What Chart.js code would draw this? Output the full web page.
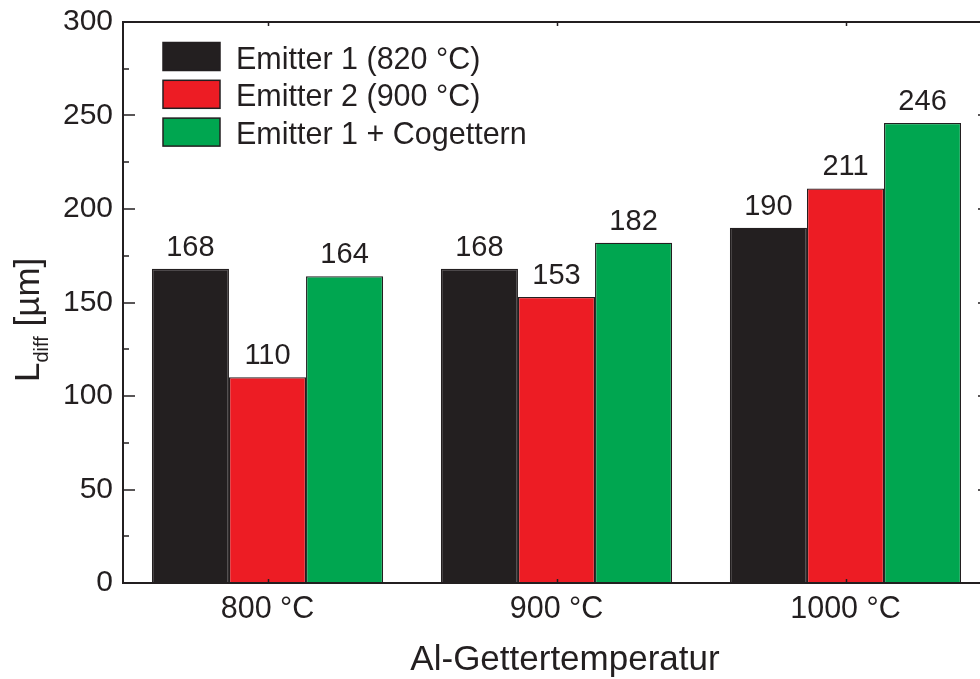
<!DOCTYPE html>
<html><head><meta charset="utf-8">
<script src="https://cdn.jsdelivr.net/npm/chart.js@4"></script>
<style>html,body{margin:0;padding:0;overflow:hidden;background:#fff}canvas{display:block}</style>
</head><body>
<canvas id="c" width="1000" height="679"></canvas>
<script>
// ---- data ----
const categories = ['800 °C', '900 °C', '1000 °C'];
const seriesNames = ['Emitter 1 (820 °C)', 'Emitter 2 (900 °C)', 'Emitter 1 + Cogettern'];
const emitter1 = [168, 168, 190];
const emitter2 = [110, 153, 211];
const emitter1Cogettern = [164, 182, 246];
const yTickValues = [0, 50, 100, 150, 200, 250, 300];
const xTitle = 'Al-Gettertemperatur';
const yTitleMain = 'L';
const yTitleSub = 'diff';
const yTitleUnit = ' [µm]';

// ---- style ----
const INK = '#231f20';
const COLORS = ['#231f20', '#ed1c24', '#00a650'];
const FONT = '"Liberation Sans", Arial, Helvetica, sans-serif';

const seriesValues = [emitter1, emitter2, emitter1Cogettern];

const decor = {
  id: 'decor',
  afterDraw(chart) {
    const ctx = chart.ctx;
    const ca = chart.chartArea;
    const y = chart.scales.y, x = chart.scales.x;
    ctx.save();
    ctx.strokeStyle = INK;
    ctx.lineWidth = 2;
    // frame
    ctx.beginPath();
    ctx.moveTo(ca.left, ca.top); ctx.lineTo(ca.right, ca.top);
    ctx.moveTo(ca.left, ca.bottom); ctx.lineTo(ca.right, ca.bottom);
    ctx.moveTo(ca.left, ca.top - 1); ctx.lineTo(ca.left, ca.bottom + 1);
    ctx.moveTo(ca.right, ca.top - 1); ctx.lineTo(ca.right, ca.bottom + 1);
    ctx.stroke();
    // y ticks (inward), major every 50, minor every 25
    ctx.beginPath();
    for (let v = y.min; v <= y.max; v += 25) {
      const len = (v % 50 === 0) ? 12 : 6;
      const py = Math.round(y.getPixelForValue(v));
      ctx.moveTo(ca.left, py); ctx.lineTo(ca.left + len, py);
      ctx.moveTo(ca.right, py); ctx.lineTo(ca.right - len, py);
    }
    // x ticks at category centres (small, inward)
    categories.forEach((c, i) => {
      const px = Math.round(x.getPixelForValue(i)) + 0.5;
      ctx.moveTo(px, ca.bottom); ctx.lineTo(px, ca.bottom - 4);
      ctx.moveTo(px, ca.top); ctx.lineTo(px, ca.top + 4);
    });
    ctx.lineWidth = 1.5;
    ctx.stroke();

    // value labels
    ctx.fillStyle = INK;
    ctx.font = '29px ' + FONT;
    ctx.textAlign = 'center';
    ctx.textBaseline = 'alphabetic';
    chart.data.datasets.forEach((ds, di) => {
      const meta = chart.getDatasetMeta(di);
      meta.data.forEach((el, i) => {
        ctx.fillText(String(ds.data[i]), el.x, el.y - 13);
      });
    });

    // legend
    ctx.textAlign = 'left';
    chart.data.datasets.forEach((ds, di) => {
      const top = 42.5 + di * 37.8;
      ctx.fillStyle = ds.backgroundColor;
      ctx.fillRect(163, top, 57, 28);
      ctx.lineWidth = 1.5;
      ctx.strokeStyle = INK;
      ctx.strokeRect(163, top, 57, 28);
      ctx.fillStyle = INK;
      ctx.font = '30.5px ' + FONT;
      ctx.fillText(ds.label, 236, top + 26);
    });

    // x title
    ctx.textAlign = 'center';
    ctx.font = '35px ' + FONT;
    ctx.fillText(xTitle, 565, 670);

    // y title, rotated, with subscript
    ctx.save();
    ctx.translate(39, 382);
    ctx.rotate(-Math.PI / 2);
    ctx.textAlign = 'left';
    ctx.font = '35px ' + FONT;
    ctx.fillText(yTitleMain, 0, 0);
    let w = ctx.measureText(yTitleMain).width;
    ctx.font = '20px ' + FONT;
    ctx.fillText(yTitleSub, w, 9);
    w += ctx.measureText(yTitleSub).width;
    ctx.font = '35px ' + FONT;
    ctx.fillText(yTitleUnit, w, 0);
    ctx.restore();

    ctx.restore();
  }
};

new Chart(document.getElementById('c'), {
  type: 'bar',
  data: {
    labels: categories,
    datasets: seriesNames.map((name, i) => ({
      label: name,
      data: seriesValues[i],
      backgroundColor: COLORS[i],
      borderColor: INK,
      borderWidth: 1.3,
      borderSkipped: 'start',
      categoryPercentage: 0.8,
      barPercentage: 1.0
    }))
  },
  options: {
    responsive: false,
    animation: false,
    devicePixelRatio: 1,
    layout: { padding: { top: 22, right: 10, left: 0, bottom: 0 } },
    plugins: { legend: { display: false }, tooltip: { enabled: false }, title: { display: false } },
    scales: {
      x: {
        type: 'category',
        offset: true,
        grid: { display: false, drawTicks: false },
        border: { display: false },
        ticks: { color: INK, font: { family: FONT, size: 30.5 }, padding: 8, maxRotation: 0 },
        afterFit(s) { s.height = 96; s.paddingLeft = 0; s.paddingRight = 0; }
      },
      y: {
        min: 0, max: 300,
        afterBuildTicks(s) { s.ticks = yTickValues.map(v => ({ value: v })); },
        grid: { display: false, drawTicks: false },
        border: { display: false },
        ticks: { color: INK, font: { family: FONT, size: 30 }, padding: 10 },
        afterFit(s) { s.width = 123; s.paddingTop = 0; s.paddingBottom = 0; }
      }
    }
  },
  plugins: [decor]
});
</script>
</body></html>
